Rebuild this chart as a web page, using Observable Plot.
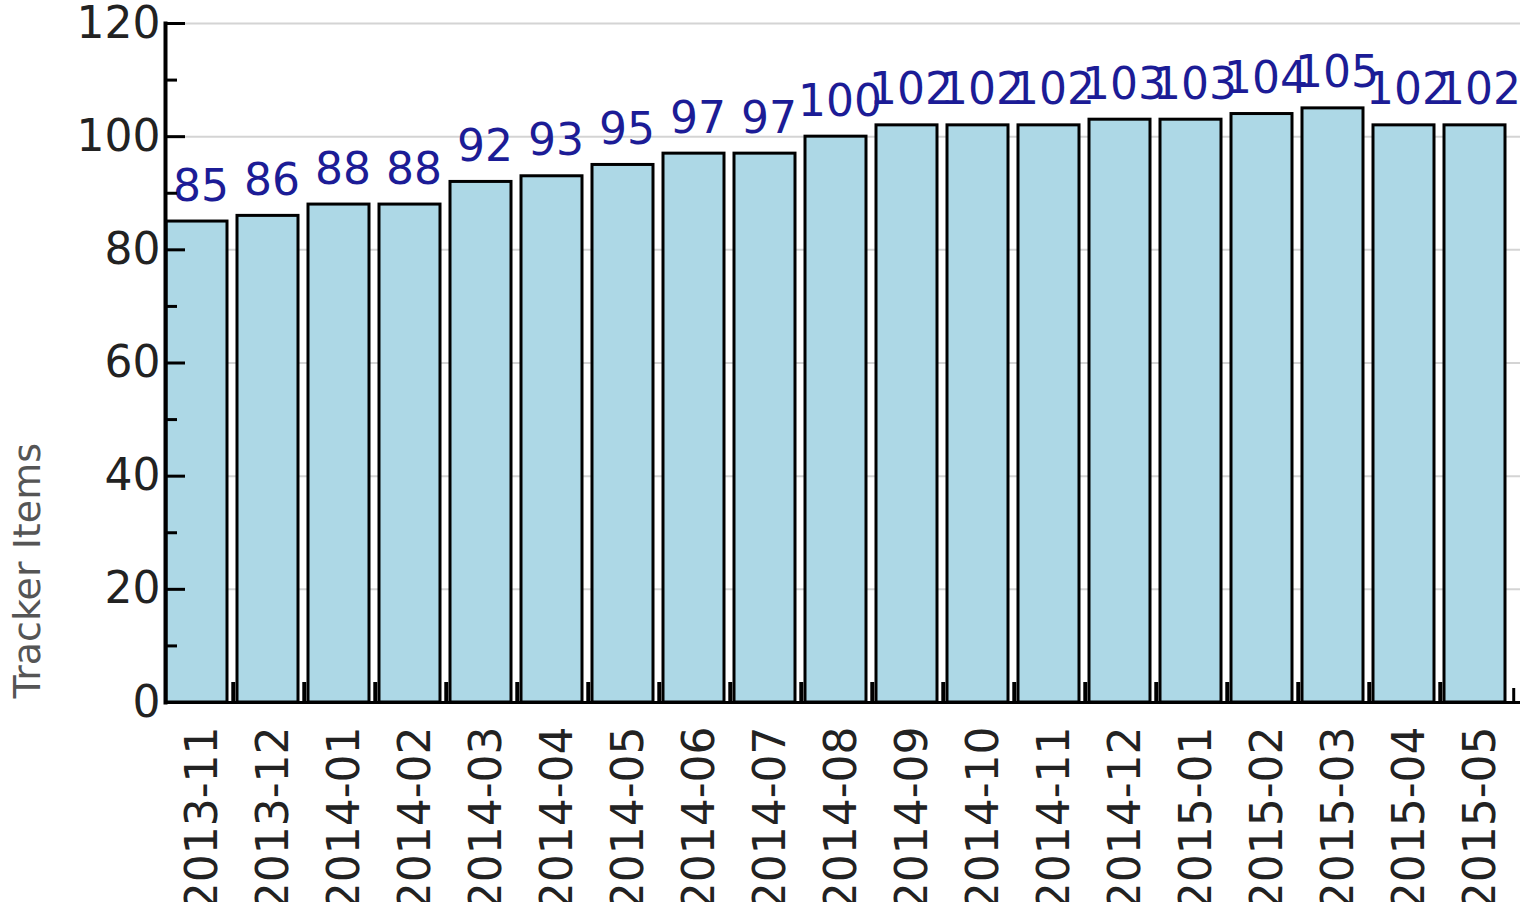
<!DOCTYPE html>
<html>
<head>
<meta charset="utf-8">
<script src="https://cdn.jsdelivr.net/npm/d3@7"></script>
<script src="https://cdn.jsdelivr.net/npm/@observablehq/plot@0.6"></script>
<style>
  html, body { margin: 0; padding: 0; background: #fff; overflow: hidden; }
  #chart svg { display: block; }
</style>
</head>
<body>
<div id="chart"></div>
<script>
const months = ["2013-11","2013-12","2014-01","2014-02","2014-03","2014-04","2014-05","2014-06","2014-07","2014-08","2014-09","2014-10","2014-11","2014-12","2015-01","2015-02","2015-03","2015-04","2015-05"];
const items = [85,86,88,88,92,93,95,97,97,100,102,102,102,103,103,104,105,102,102];
const majorTicks = [0,20,40,60,80,100,120];
const minorTicks = [10,30,50,70,90,110];
const yTitle = "Tracker Items";

const data = months.map((m, i) => ({month: m, value: items[i]}));

const W = 1537, H = 902, mL = 165, mR = 17, mT = 23, mB = 200;
const pIn = 0.14, pOut = 0.055;
const step = (W - mL - mR) / (months.length - pIn + 2 * pOut);
const bw = step * (1 - pIn);
const gap = step * pIn;
const plotH = H - mT - mB;

const chart = Plot.plot({
  width: W, height: H,
  marginLeft: mL, marginRight: mR, marginTop: mT, marginBottom: mB,
  style: {fontFamily: "'DejaVu Sans', sans-serif", fontSize: "44px", color: "#222", background: "#fff"},
  x: {domain: months, paddingInner: pIn, paddingOuter: pOut, align: 0, label: null},
  y: {domain: [0, 120], label: null},
  marks: [
    Plot.gridY(majorTicks, {stroke: "#d4d4d4", strokeOpacity: 1, strokeWidth: 2}),
    Plot.barY(data, {x: "month", y: "value", fill: "#add8e6", stroke: "#000", strokeWidth: 3, dx: 1}),
    Plot.text(data, {x: "month", y: "value", text: d => String(d.value), fill: "#1c1c96", lineAnchor: "bottom", dy: -21, dx: 5}),
    Plot.axisX({tickSize: 0, tickPadding: 24, tickRotate: -90, dx: 7, fill: "#222"}),
    Plot.axisY(majorTicks, {tickSize: 0, tickPadding: 5, fill: "#222"}),
    Plot.axisY(majorTicks, {text: null, tickSize: -20, strokeWidth: 3, stroke: "#000"}),
    Plot.axisY(minorTicks, {text: null, tickSize: -12, strokeWidth: 3, stroke: "#000"}),
    Plot.ruleX(months.slice(1), {strokeWidth: 4, stroke: "#000", dx: -bw / 2 - 3, insetTop: plotH - 20}),
    Plot.ruleX(months.slice(-1), {strokeWidth: 3, stroke: "#000", dx: bw / 2 + gap - 1, insetTop: plotH - 14}),
    Plot.ruleY([0], {strokeWidth: 3, stroke: "#000"}),
    Plot.frame({anchor: "left", strokeWidth: 4, stroke: "#000"}),
    Plot.text([yTitle], {frameAnchor: "bottom-left", rotate: -90, textAnchor: "start", dx: -126, dy: -4, fill: "#555", fontSize: 38})
  ]
});
document.getElementById("chart").appendChild(chart);
</script>
</body>
</html>
